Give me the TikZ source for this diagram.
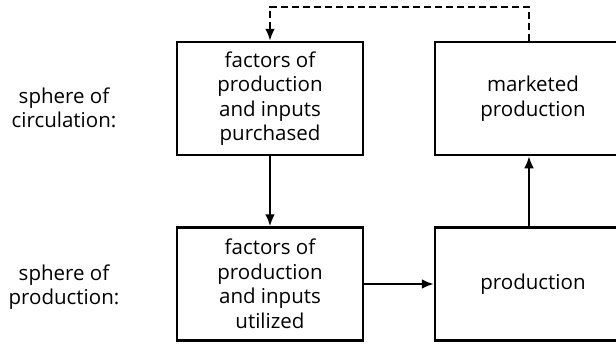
\documentclass[tikz,border=0pt]{standalone}
\usepackage{fontspec}
\setmainfont{Open Sans}
\usetikzlibrary{arrows.meta}
\begin{document}
\begin{tikzpicture}[x=1pt,y=-1pt,
  every node/.style={font=\fontsize{20.5}{24.5}\selectfont, text=black},
  stagebox/.style={draw, line width=2.5pt, minimum width=186pt, minimum height=113pt,
    align=center, inner sep=0pt},
  sidelabel/.style={align=center},
  flow/.style={line width=2.4pt, -{Latex[length=12pt,width=10pt]}},
  feedback/.style={flow, dash pattern=on 7pt off 4pt}]
  \useasboundingbox (0,0) rectangle (616,343);
  \fill[white] (0,0) rectangle (616,343);

  % sphere labels
  \node[sidelabel] (lcirc) at (64,108) {sphere of\\circulation:};
  \node[sidelabel] (lprod) at (64,287) {sphere of\\production:};

  % stages
  \node[stagebox] (purch) at (270,98.5) {factors of\\production\\and inputs\\purchased};
  \node[stagebox] (util) at (270,284) {factors of\\production\\and inputs\\utilized};
  \node[stagebox, minimum width=196pt] (market) at (533,98.5) {marketed\\production};
  \node[stagebox, minimum width=196pt] (prod) at (533,284) {production};

  % flows
  \draw[flow] (purch) -- (util);
  \draw[flow] (util) -- (prod);
  \coordinate (upfoot) at (529,228);
  \draw[flow] (prod.north -| upfoot) -- (market.south -| upfoot);
  \coordinate (fbtop) at (529,7);
  \draw[feedback] (market.north -| fbtop) -- (fbtop) -| (purch.north);
\end{tikzpicture}
\end{document}
